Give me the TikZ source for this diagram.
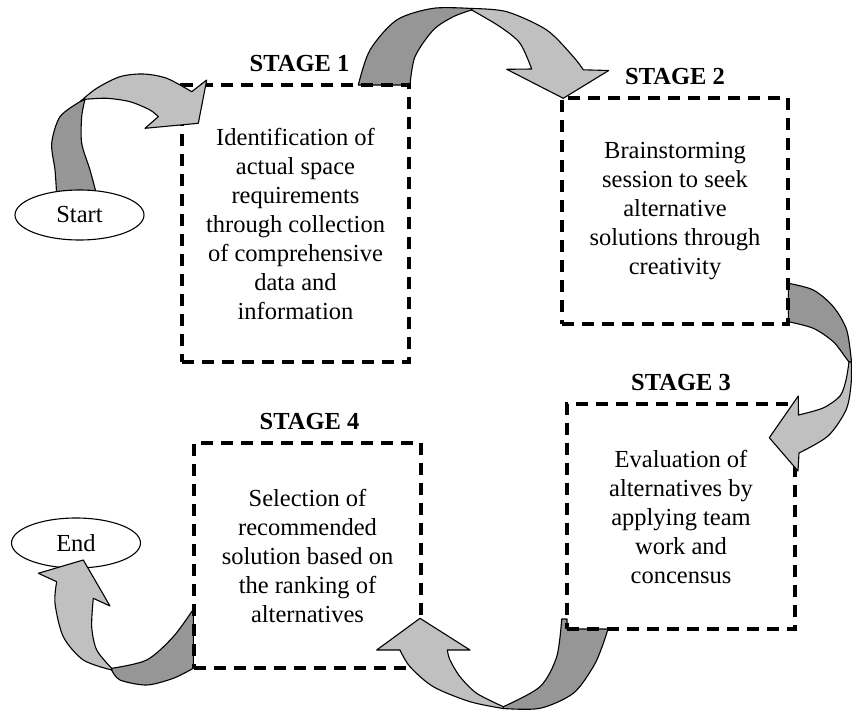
\documentclass[tikz,border=0pt]{standalone}
\usepackage{fontspec}
\setmainfont{Liberation Serif}
\usetikzlibrary{positioning,shapes.geometric}
\definecolor{arrowfront}{RGB}{192,192,192}
\definecolor{arrowback}{RGB}{150,150,150}
\tikzset{
	stagebox/.style={draw, line width=3.5pt, dash pattern=on 12pt off 8pt, align=center, inner sep=0pt, font=\fontsize{24.5}{29}\selectfont},
	stagelabel/.style={inner sep=0pt, font=\bfseries\fontsize{24.5}{29}\selectfont},
	terminal/.style={ellipse, draw, line width=1.1pt, fill=white, minimum width=129pt, minimum height=50pt, font=\fontsize{24.5}{29}\selectfont},
	backpart/.style={draw, fill=arrowback, line width=1.1pt, line join=round},
	frontpart/.style={draw, fill=arrowfront, line width=1.1pt, line join=round}
}
\begin{document}
\begin{tikzpicture}[x=1pt, y=-1pt]
			\useasboundingbox (0,0) rectangle (852,712);
			
			% back side of the curved arrows
			\filldraw[backpart] plot[smooth] coordinates {(56.7,195) (55,170) (51.7,143.3) (60,116.7) (80,101.7)}
				-- plot[smooth] coordinates {(85,99.3) (81.7,116.7) (81.7,143.3) (90,170) (96.7,195)} -- cycle;
			\filldraw[backpart] plot[smooth] coordinates {(358.3,85) (370,50) (396.7,20) (433.3,8.3) (471.7,8.5)}
				-- plot[smooth] coordinates {(471.7,10) (453.3,16.7) (433.3,30) (415,56.7) (410,85)} -- cycle;
			\filldraw[backpart] plot[smooth] coordinates {(788.3,283.3) (813.3,290) (833.3,306.7) (846.7,330) (851.5,362)}
				-- plot[smooth] coordinates {(849,362) (845,356.7) (833.3,341.7) (813.3,328.3) (788.3,321.7)} -- cycle;
			\filldraw[backpart] (561.7,619) -- (567,619) -- (567,629)
				-- plot[smooth] coordinates {(608,629) (602,647) (593.3,666.7) (573.3,693.3) (540,708.3) (503.3,708.5)}
				-- plot[smooth] coordinates {(503.3,706.7) (540,686.7) (556.7,656.7) (561.7,619)} -- cycle;
			\filldraw[backpart] plot[smooth] coordinates {(193.3,609.3) (173.3,636.7) (146.7,660) (111.7,668.3)}
				-- plot[smooth] coordinates {(111.7,670) (120,680) (146.7,685) (173.3,678.3) (193.3,668.3)} -- cycle;
			
			\node[stagebox, minimum width=227pt, minimum height=277pt] (stage1) at (295.5,223.5) {Identification of\\actual space\\requirements\\through collection\\of comprehensive\\data and\\information};
			\node[stagebox, minimum width=226pt, minimum height=226pt] (stage2) at (675,211) {Brainstorming\\session to seek\\alternative\\solutions through\\creativity};
			\node[stagebox, minimum width=228pt, minimum height=225pt] (stage3) at (681,516.5) {Evaluation of\\alternatives by\\applying team\\work and\\concensus};
			\node[stagebox, minimum width=227pt, minimum height=225pt] (stage4) at (307.5,555.5) {Selection of\\recommended\\solution based on\\the ranking of\\alternatives};
			
			\node[stagelabel, above=11pt of stage1, xshift=4pt] (label1) {STAGE 1};
			\node[stagelabel, above=11pt of stage2] (label2) {STAGE 2};
			\node[stagelabel, above=11pt of stage3] (label3) {STAGE 3};
			\node[stagelabel, above=11pt of stage4, xshift=2pt] (label4) {STAGE 4};
			
			\node[terminal] (start) at (79.5,215) {Start};
			\node[terminal] (end) at (76,543) {End};
			
			% front side with the heads
			\filldraw[frontpart] plot[smooth] coordinates {(80,101.7) (96.7,88.3) (120,76.7) (143.3,74) (166.7,78.3) (191.7,91.7)}
				-- (206.7,80) -- (198.3,123.3) -- (145,128.3)
				-- plot[smooth] coordinates {(158.3,116.7) (150,110) (130,101.7) (106.7,98.3) (85,99.3)} -- cycle;
			\filldraw[frontpart] plot[smooth] coordinates {(471.7,8.5) (506.7,11.7) (546.7,30) (573.3,56.7) (583.3,69.8)}
				-- (608.7,70.5) -- (563.3,98.3) -- (506.7,69.3)
				-- plot[smooth] coordinates {(531.7,69) (520,43.3) (500,26.7) (471.7,10)} -- cycle;
			\filldraw[frontpart] plot[smooth] coordinates {(851.5,362) (851,385) (846,410) (828,436) (799,453)}
				-- (798,471) -- (769.3,437.7) -- (798.3,396)
				-- plot[smooth] coordinates {(798.5,415) (823,408) (840,396) (846,380) (849,362)} -- cycle;
			\filldraw[frontpart] plot[smooth] coordinates {(503.3,708.5) (470,701.7) (433.3,686.7) (410,666.7) (400,650)}
				-- (376.7,650) -- (420,618.3) -- (470,650)
				-- plot[smooth] coordinates {(447.3,650) (450,660) (460,676.7) (476.7,693.3) (503.3,706.7)} -- cycle;
			\filldraw[frontpart] plot[smooth] coordinates {(111.7,670) (83.3,660) (63.3,636.7) (55,603.3) (56.7,581.7)}
				-- (38.3,573.3) -- (83.3,560) -- (110,606)
				-- plot[smooth] coordinates {(93.3,598.3) (91.7,626.7) (96.7,650) (111.7,668.3)} -- cycle;
		\end{tikzpicture}
\end{document}
